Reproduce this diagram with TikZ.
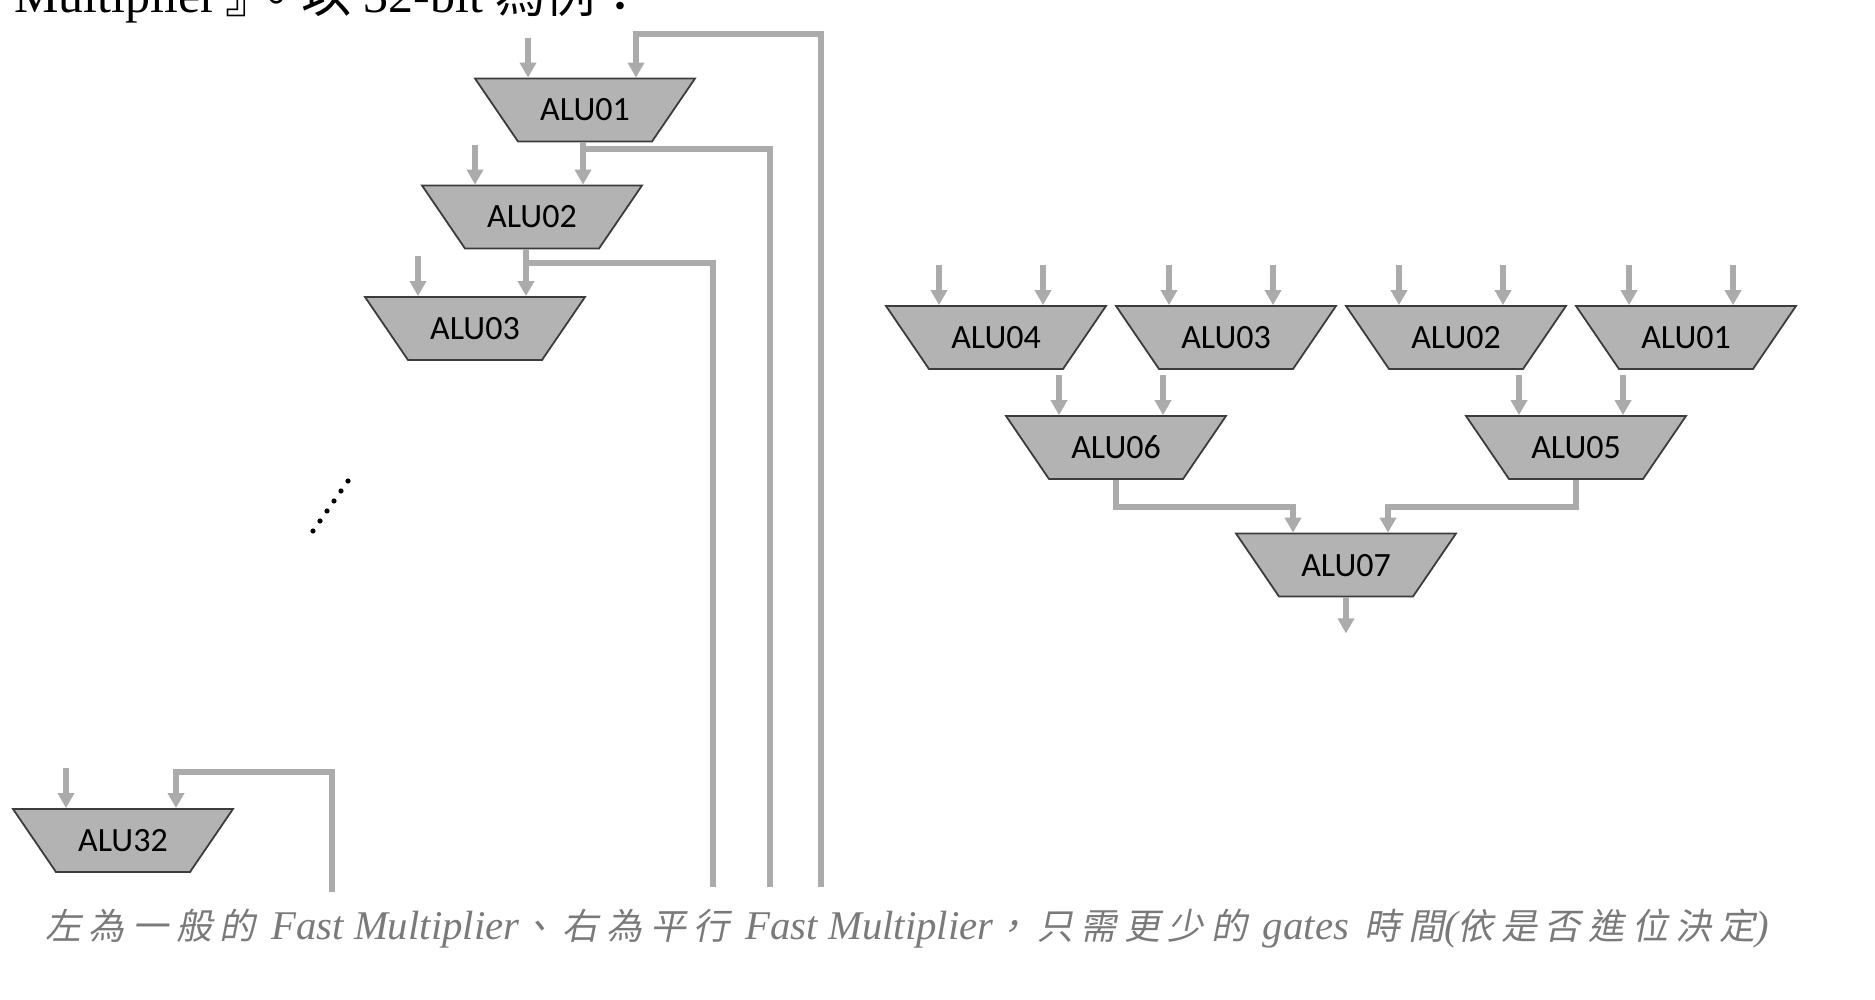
\documentclass[tikz,border=0pt]{standalone}
\usepackage{fontspec}
\newfontfamily\alufont{Carlito}
\newfontfamily\cjkfont{Noto Sans CJK TC}
\newfontfamily\cjkslant[FakeSlant=0.2,LetterSpace=21]{Noto Sans CJK TC}
\newfontfamily\serifrm{Liberation Serif}
\usetikzlibrary{arrows.meta,calc,shapes.geometric}
\definecolor{wiregray}{HTML}{ABABAB}
\definecolor{alufill}{HTML}{B3B3B3}
\definecolor{aluedge}{HTML}{3C3C3C}
\definecolor{notegray}{HTML}{7A7A7A}
\tikzset{
  alu/.style={trapezium, shape border rotate=180, trapezium angle=55.7,
    text width=67pt, align=center, text height=21.25pt, text depth=10.25pt,
    inner sep=0pt, fill=alufill, draw=aluedge, line width=0.9pt,
    font=\alufont\fontsize{17}{17}\selectfont},
  wire/.style={draw=wiregray, line width=3pt},
  feed/.style={wire, -{Triangle[width=8pt,length=7.5pt]}},
}
\newcommand\lat[1]{{\serifrm\itshape\fontsize{20.4}{20.4}\selectfont #1}}
\def\inarrow(#1)(#2){\draw[feed] ($(#1.north)+(#2,-40)$) -- ($(#1.north)+(#2,0)$);}

\begin{document}
\begin{tikzpicture}[x=0.5pt,y=-0.5pt]
		%%%%% START %%%%%
		\useasboundingbox (0,0) rectangle (1875,1000);
		\clip (0,0) rectangle (1875,1000);
		
		\node[anchor=base west, inner sep=0pt] (head) at (14,13)
			{\serifrm\fontsize{25}{25}\selectfont Multiplier\kern4pt{\cjkfont 』\kern-12pt\raisebox{-1.5pt}{。}以} 32-bit {\cjkfont 為例：}};
		
		% serial chain
		\node[alu] (a01) at (585,110) {ALU01};
		\node[alu] (a02) at (532,217) {ALU02};
		\node[alu] (a03) at (475,328.5) {ALU03};
		\node[alu] (a32) at (123,840.5) {ALU32};
		
		\coordinate (e0) at (821,887);
		\coordinate (e1) at (770,887);
		\coordinate (e2) at (713,887);
		\coordinate (e32) at (332,892);
		
		\inarrow(a01)(-57)
		\inarrow(a02)(-57)
		\inarrow(a03)(-57)
		\inarrow(a32)(-57)
		
		\draw[feed] (e0) |- ($(a01.north)+(51,-44)$) -- ($(a01.north)+(51,0)$);
		\draw[feed] (a01.south -| a02.north) ++(51,0) -- ($(a02.north)+(51,0)$);
		\draw[wire] ($(a02.north)+(51,-36)$) -| (e1);
		\draw[feed] (a02.south -| a03.north) ++(51,0) -- ($(a03.north)+(51,0)$);
		\draw[wire] ($(a03.north)+(51,-33)$) -| (e2);
		\draw[feed] (e32) |- ($(a32.north)+(53,-36)$) -- ($(a32.north)+(53,0)$);
		
		\foreach \i in {0,...,5}
			\fill ({313+7*\i},{531-10*\i}) circle (2.6);
		
		% parallel tree
		\node[alu] (b04) at (996,337.5) {ALU04};
		\node[alu] (b03) at (1226,337.5) {ALU03};
		\node[alu] (b02) at (1456,337.5) {ALU02};
		\node[alu] (b01) at (1686,337.5) {ALU01};
		\node[alu] (b06) at (1116,447.5) {ALU06};
		\node[alu] (b05) at (1576,447.5) {ALU05};
		\node[alu] (b07) at (1346,565) {ALU07};
		
		\foreach \n in {b04,b03,b02,b01,b06,b05} {
			\inarrow(\n)(-57)
			\inarrow(\n)(47)
		}
		\draw[feed] (b06.south) -- ++(0,27) -| ($(b07.north)+(-53,0)$);
		\draw[feed] (b05.south) -- ++(0,27) -| ($(b07.north)+(42,0)$);
		\coordinate (out7) at ($(b07.south)+(0,36)$);
		\draw[feed] (b07.south) -- (out7);
		
		\node[anchor=base west, inner sep=0pt, text=notegray] (note) at (45,939)
			{\cjkslant\fontsize{18}{18}\selectfont 左為一般的 \lat{Fast Multiplier}、右為平行 \lat{Fast Multiplier}，只需更少的 \lat{gates} 時間\lat{(}依是否進位決定\lat{)}};
		
		%%%%% END %%%%%
	\end{tikzpicture}
\end{document}
